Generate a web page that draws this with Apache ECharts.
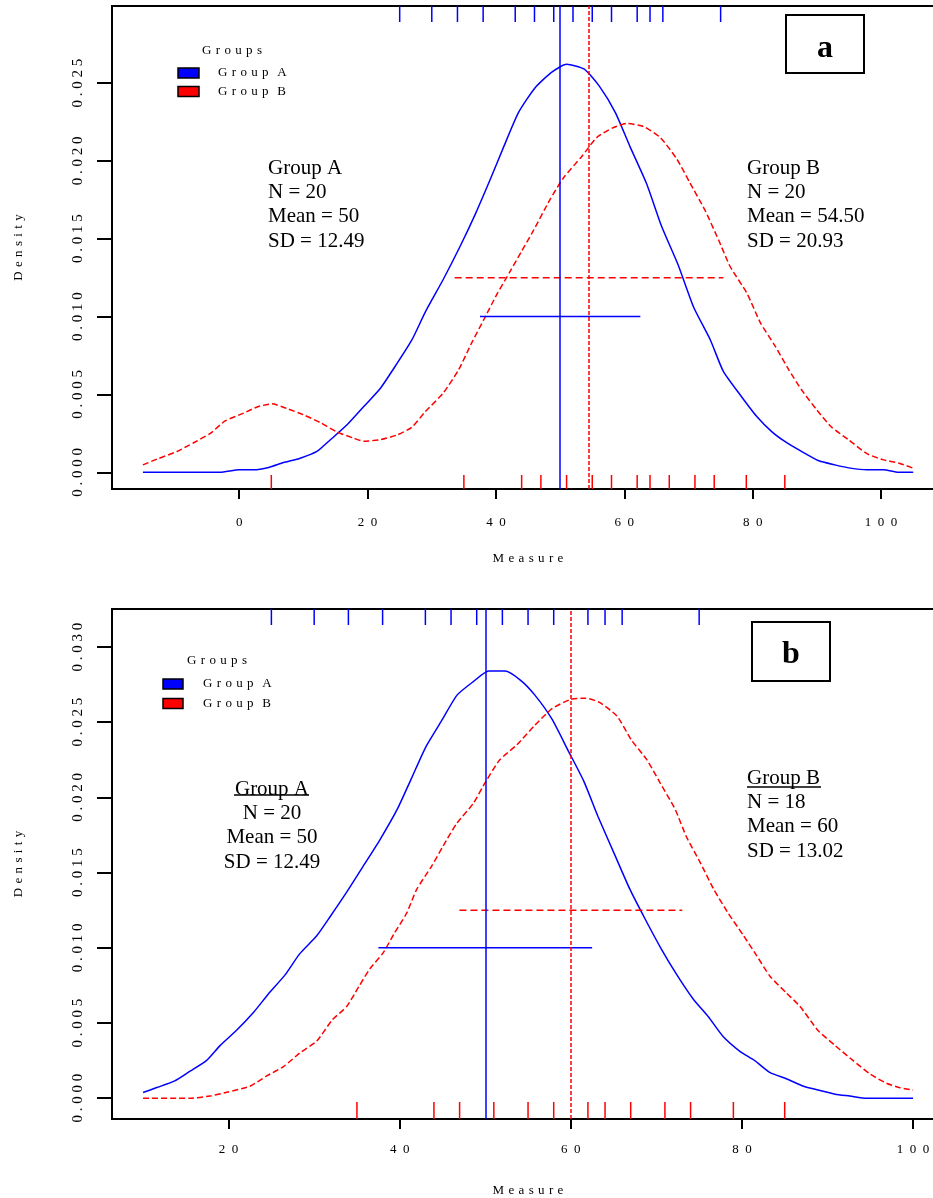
<!DOCTYPE html>
<html>
<head>
<meta charset="utf-8">
<script src="https://cdn.jsdelivr.net/npm/echarts@6/dist/echarts.min.js"></script>
<style>
  html, body { margin: 0; padding: 0; width: 933px; height: 1198px; overflow: hidden; background: #fff; }
  #chart { width: 960px; height: 1198px; }
</style>
</head>
<body>
<div id="chart"></div>
<script>
// ---- Panel a: kernel density estimates [Measure, Density] ----
const densityA_a = [[-15,0],[-3,0],[0,0.00016],[2.2,0.00016],[4.6,0.00031],[6.9,0.00063],[9.5,0.00091],[12.1,0.00134],[14.2,0.00209],[16.8,0.00305],[19.4,0.00422],[22,0.0054],[24.6,0.007],[26.9,0.0085],[29,0.0103],[31.8,0.0124],[34.4,0.0145],[36.8,0.0166],[39.1,0.0188],[41.2,0.0209],[43.5,0.0231],[46.1,0.0247],[48.7,0.0257],[51,0.0262],[53.7,0.0259],[56.1,0.0248],[58.6,0.0231],[60.9,0.0209],[63.5,0.0185],[65.8,0.0158],[68.4,0.0133],[70.8,0.0106],[73.4,0.0085],[75.4,0.0065],[78,0.005],[80.6,0.0036],[83,0.0026],[85.3,0.0019],[87.6,0.00134],[90.2,0.00076],[92.8,0.00048],[95.2,0.00027],[97.8,0.00016],[100.4,0.00016],[102.7,0],[105,0]];
const densityB_a = [[-15,0.00048],[-12.8,0.00085],[-9.7,0.00134],[-7.1,0.0019],[-4.5,0.0025],[-2.2,0.0033],[0.7,0.0038],[2.8,0.0042],[5.1,0.0044],[7.4,0.0041],[10,0.0037],[12.6,0.0032],[15.2,0.0026],[17.8,0.0022],[19.4,0.002],[22,0.0021],[24.6,0.0024],[26.9,0.0029],[29,0.0039],[31.8,0.0051],[34.2,0.0066],[36.2,0.0083],[38.1,0.0098],[40.1,0.0114],[42.2,0.0129],[44,0.0142],[45.8,0.0155],[48.4,0.0175],[50.5,0.0189],[53.4,0.0203],[55.7,0.0215],[58.1,0.0221],[60.4,0.0224],[63,0.0222],[65.6,0.0215],[68.2,0.0201],[70.2,0.0186],[72.6,0.0168],[74.7,0.0149],[76.5,0.0132],[79.1,0.0115],[81.2,0.0096],[83.5,0.0081],[85.6,0.0066],[87.6,0.0053],[90,0.004],[92.3,0.0029],[94.9,0.0021],[97.8,0.0012],[100.4,0.0008],[102.7,0.0006],[105,0.00027]];

// ---- Panel b: kernel density estimates [Measure, Density] ----
const densityA_b = [[10,0.00038],[11.6,0.00071],[13.7,0.00115],[15.5,0.0018],[17.4,0.0025],[19,0.0035],[20.9,0.0045],[22.9,0.0057],[24.6,0.0069],[26.6,0.0082],[28.3,0.0096],[30.3,0.0108],[31.9,0.0121],[33.8,0.0137],[35.7,0.0154],[37.7,0.0172],[39.7,0.0192],[41.4,0.0213],[43,0.0233],[44.9,0.0251],[46.7,0.0268],[48.6,0.0277],[50.4,0.0284],[52.3,0.0284],[54.1,0.0278],[55.8,0.0268],[57.8,0.0252],[59.7,0.0231],[61.5,0.0211],[63.2,0.0187],[65.2,0.0161],[66.9,0.0139],[68.7,0.0119],[70.6,0.0099],[72.4,0.0082],[74.3,0.0066],[76.1,0.0054],[77.8,0.0041],[79.8,0.0031],[81.5,0.0025],[83.3,0.0017],[85.2,0.0013],[87.2,0.0008],[88.9,0.00055],[90.9,0.00027],[92.6,0.00015],[94.6,0],[100,0]];
const densityB_b = [[10,0],[15.5,0],[17.8,0.00015],[19.8,0.0004],[22.5,0.0008],[24.5,0.0015],[26.4,0.0021],[28.3,0.003],[30.3,0.0038],[32.1,0.0052],[33.8,0.0061],[35.2,0.0074],[36.5,0.0086],[38.1,0.0097],[39.3,0.0109],[40.8,0.0123],[42,0.0139],[43.7,0.0154],[45.1,0.0168],[46.7,0.0183],[48.6,0.0196],[50,0.021],[51.7,0.0225],[53.7,0.0235],[55.8,0.0248],[57.8,0.0259],[59.9,0.0265],[61.7,0.0266],[63.4,0.0263],[65.4,0.0254],[67.1,0.0238],[68.9,0.0225],[70.4,0.021],[72.2,0.0192],[73.5,0.0174],[75.1,0.0157],[76.7,0.0139],[78.4,0.0123],[80.2,0.0108],[81.7,0.0095],[83.3,0.0081],[85.2,0.007],[86.8,0.0061],[88.9,0.0045],[90.9,0.0035],[93,0.0025],[95,0.0016],[96.9,0.001],[98.5,0.0007],[100,0.00055]];

// ---- Raw observations (rug marks) ----
const rugA   = [25, 30, 34, 38, 43, 46, 49, 52, 55, 58, 62, 64, 66, 75];
const rugB_a = [5, 35, 44, 47, 51, 55, 58, 62, 64, 67, 71, 74, 79, 85];
const rugB_b = [35, 44, 47, 51, 55, 58, 62, 64, 67, 71, 74, 79, 85];

// ---- Summary statistics ----
const statsA   = { n: 20, mean: 50,   sd: 12.49, meanText: '50',    sdText: '12.49' };
const statsB_a = { n: 20, mean: 54.5, sd: 20.93, meanText: '54.50', sdText: '20.93' };
const statsB_b = { n: 18, mean: 60,   sd: 13.02, meanText: '60',    sdText: '13.02' };

// Heights at which the mean ± SD bars are drawn
const sdBarLevelA = 0.010;
const sdBarLevelB = 0.0125;

// ---- Tick values ----
const xTicks_a = [0, 20, 40, 60, 80, 100];
const xTicks_b = [20, 40, 60, 80, 100];
const yTicks_a = [0, 0.005, 0.010, 0.015, 0.020, 0.025];
const yTicks_b = [0, 0.005, 0.010, 0.015, 0.020, 0.025, 0.030];

const BLUE = '#0000ff', RED = '#ff0000', BLACK = '#000';
const SERIF = '"Liberation Serif", "Times New Roman", "DejaVu Serif", serif';

// widen the tracking of a label by inserting a narrow space between characters
const track = (s, sp) => s.split('').join(sp);
const SP3 = '\u2004';
const SP4 = '\u2005';
const SP2 = '\u2002';

function xAxisCfg(gridIndex, min, max, ticks, margin, nameGap) {
  return {
    gridIndex, type: 'value', min, max,
    axisLine: { show: false, onZero: false },
    splitLine: { show: false },
    axisTick: { show: true, length: 10, customValues: ticks, lineStyle: { color: BLACK, width: 2 } },
    axisLabel: { customValues: ticks, margin, color: BLACK, fontFamily: SERIF, fontSize: 13,
      formatter: v => track(String(v), SP2) },
    name: track('Measure', SP3), nameLocation: 'middle', nameGap,
    nameTextStyle: { color: BLACK, fontFamily: SERIF, fontSize: 13 }
  };
}
function yAxisCfg(gridIndex, min, max, ticks) {
  return {
    gridIndex, type: 'value', min, max,
    axisLine: { show: false, onZero: false },
    splitLine: { show: false },
    axisTick: { show: true, length: 15, customValues: ticks, lineStyle: { color: BLACK, width: 2 } },
    axisLabel: { customValues: ticks, rotate: 90, margin: 26, color: BLACK, fontFamily: SERIF, fontSize: 15,
      formatter: v => track(v.toFixed(3), SP4) },
    name: track('Density', SP3), nameLocation: 'middle', nameRotate: 90, nameGap: 87,
    nameTextStyle: { color: BLACK, fontFamily: SERIF, fontSize: 13 }
  };
}

function curve(idx, name, data, color, dash, mean) {
  return {
    type: 'line', name, xAxisIndex: idx, yAxisIndex: idx, data,
    showSymbol: false, smooth: 0.2, silent: true,
    lineStyle: { color, width: 1.5, type: dash ? [6, 3] : 'solid' },
    markLine: {
      silent: true, symbol: ['none', 'none'], label: { show: false },
      lineStyle: { color, width: 1.5, type: dash ? [4, 2] : 'solid' },
      data: [{ xAxis: mean }]
    }
  };
}
function sdBar(idx, stats, level, color, dash) {
  return {
    type: 'line', xAxisIndex: idx, yAxisIndex: idx, silent: true, showSymbol: false,
    data: [[stats.mean - stats.sd, level], [stats.mean + stats.sd, level]],
    lineStyle: { color, width: 1.5, type: dash ? [7, 4] : 'solid' }
  };
}
// rug: short vertical ticks hanging from the top edge or standing on the bottom edge
function rug(idx, values, color, atTop, len) {
  return {
    type: 'custom', xAxisIndex: idx, yAxisIndex: idx, silent: true,
    data: values.map(v => [v, 0]),
    renderItem: (params, api) => {
      const x = api.coord([api.value(0), 0])[0];
      const cs = params.coordSys;
      const y1 = atTop ? cs.y : cs.y + cs.height;
      const y2 = atTop ? cs.y + len : cs.y + cs.height - len;
      return { type: 'line', shape: { x1: x, y1, x2: x, y2 }, style: { stroke: color, lineWidth: 1.5 } };
    }
  };
}

function legendGroup(titleX, titleY, boxX, boxW, boxH, rowsY, textX) {
  const els = [{ type: 'text', x: titleX, y: titleY,
    style: { text: track('Groups', SP3), font: '13px ' + SERIF, fill: BLACK, align: 'center', verticalAlign: 'middle' } }];
  [['Group A', BLUE], ['Group B', RED]].forEach(([label, c], i) => {
    els.push({ type: 'rect', shape: { x: boxX, y: rowsY[i] - boxH / 2, width: boxW, height: boxH },
      style: { fill: c, stroke: BLACK, lineWidth: 1.5 } });
    els.push({ type: 'text', x: textX, y: rowsY[i],
      style: { text: track('Group', SP3) + SP3 + SP3 + (i ? 'B' : 'A'), font: '13px ' + SERIF, fill: BLACK,
        align: 'left', verticalAlign: 'middle' } });
  });
  return els;
}
function statsBlock(x, y, name, s, align) {
  return { type: 'text', x, y,
    style: { text: [name, 'N = ' + s.n, 'Mean = ' + s.meanText, 'SD = ' + s.sdText].join('\n'),
      font: '21px ' + SERIF, fill: BLACK, align, verticalAlign: 'top', lineHeight: 24.3 } };
}
function panelTag(x, y, w, h, letter, dy) {
  return [
    { type: 'rect', shape: { x, y, width: w, height: h }, style: { fill: '#fff', stroke: BLACK, lineWidth: 2 } },
    { type: 'text', x: x + w / 2, y: y + h / 2 + dy,
      style: { text: letter, font: 'bold 32px ' + SERIF, fill: BLACK, align: 'center', verticalAlign: 'middle' } }
  ];
}

const chart = echarts.init(document.getElementById('chart'), null, { renderer: 'canvas' });
chart.setOption({
  animation: false,
  backgroundColor: '#fff',
  grid: [
    { left: 112, top: 6, width: 832, height: 483, show: true, borderColor: BLACK, borderWidth: 2, backgroundColor: 'transparent' },
    { left: 112, top: 609, width: 832, height: 510, show: true, borderColor: BLACK, borderWidth: 2, backgroundColor: 'transparent' }
  ],
  xAxis: [
    xAxisCfg(0, -19.82, 109.8, xTicks_a, 27, 63),
    xAxisCfg(1, 6.37, 103.62, xTicks_b, 24, 65)
  ],
  yAxis: [
    yAxisCfg(0, -0.00107, 0.029945, yTicks_a),
    yAxisCfg(1, -0.00138, 0.032527, yTicks_b)
  ],
  series: [
    curve(0, 'Group A', densityA_a, BLUE, false, statsA.mean),
    curve(0, 'Group B', densityB_a, RED, true, statsB_a.mean),
    sdBar(0, statsA, sdBarLevelA, BLUE, false),
    sdBar(0, statsB_a, sdBarLevelB, RED, true),
    rug(0, rugA, BLUE, true, 16),
    rug(0, rugB_a, RED, false, 14),

    curve(1, 'Group A', densityA_b, BLUE, false, statsA.mean),
    curve(1, 'Group B', densityB_b, RED, true, statsB_b.mean),
    sdBar(1, statsA, sdBarLevelA, BLUE, false),
    sdBar(1, statsB_b, sdBarLevelB, RED, true),
    rug(1, rugA, BLUE, true, 16),
    rug(1, rugB_b, RED, false, 17)
  ],
  graphic: [
    ...legendGroup(232, 51, 178, 21, 10, [73, 91.5], 218),
    statsBlock(268, 156, 'Group A', statsA, 'left'),
    statsBlock(747, 156, 'Group B', statsB_a, 'left'),
    ...panelTag(786, 15, 78, 58, 'a', 5),

    ...legendGroup(217, 661, 163, 20, 10, [684, 703.5], 203),
    statsBlock(272, 777, 'Group A', statsA, 'center'),
    statsBlock(747, 766, 'Group B', statsB_b, 'left'),
    { type: 'line', shape: { x1: 234, y1: 795, x2: 309, y2: 795 }, style: { stroke: BLACK, lineWidth: 1.5 } },
    { type: 'line', shape: { x1: 747, y1: 787, x2: 821, y2: 787 }, style: { stroke: BLACK, lineWidth: 1.5 } },
    ...panelTag(752, 622, 78, 59, 'b', 3)
  ]
});
</script>
</body>
</html>
